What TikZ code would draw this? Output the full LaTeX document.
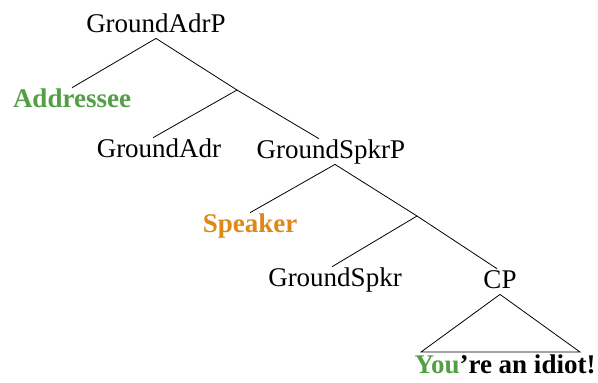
\documentclass[tikz,border=0pt]{standalone}
\usepackage{fontspec}
\setmainfont{Liberation Serif}
\definecolor{adrgreen}{RGB}{84,158,72}
\definecolor{spkrorange}{RGB}{222,136,24}
\begin{document}
\begin{tikzpicture}[x=0.5pt, y=-0.5pt,
  cat/.style    = {inner sep=0pt, anchor=base, text height=9.45pt, text depth=3pt,
                   font=\fontsize{13.5}{16}\selectfont},
  role/.style   = {cat, font=\fontsize{13.5}{16}\selectfont\bfseries},
  branch/.style = {draw, thin}]

	\useasboundingbox (0,0) rectangle (598,382);

	% labelled nodes of the tree
	\node[cat] (adrp) at (156,32) {GroundAdrP};
	\node[role, text=adrgreen] (adr) at (72,107) {Addressee};
	\node[cat] (gadr) at (159,157) {GroundAdr};
	\node[cat] (spkrp) at (331,158) {GroundSpkrP};
	\node[role, text=spkrorange] (spkr) at (250,232) {Speaker};
	\node[cat] (gspkr) at (335,286) {GroundSpkr};
	\node[cat] (cp) at (500,288) {CP};
	\node[role] (utt) at (505,373) {\textcolor{adrgreen}{You}'re an idiot!};

	% unlabelled bar levels and the triangle base
	\coordinate (adrbar) at (237,90);
	\coordinate (spkrbar) at (417,216);
	\coordinate (baseL) at (421,352);
	\coordinate (baseR) at (580,352);

	% branches
	\draw[branch] (adrp.south) -- (adrbar) -- ([xshift=-6pt]spkrp.north);
	\draw[branch] (adrp.south) -- (adr.north);
	\draw[branch] (adrbar) -- ([xshift=-3pt]gadr.north);

	\draw[branch] ([xshift=2pt]spkrp.south) -- (spkrbar) -- ([xshift=-1.5pt]cp.north);
	\draw[branch] ([xshift=2pt]spkrp.south) -- (spkr.north);
	\draw[branch] (spkrbar) -- ([xshift=-1.5pt]gspkr.north);

	\draw[branch] (cp.south) -- (baseL) -- (baseR) -- cycle;
\end{tikzpicture}
\end{document}
